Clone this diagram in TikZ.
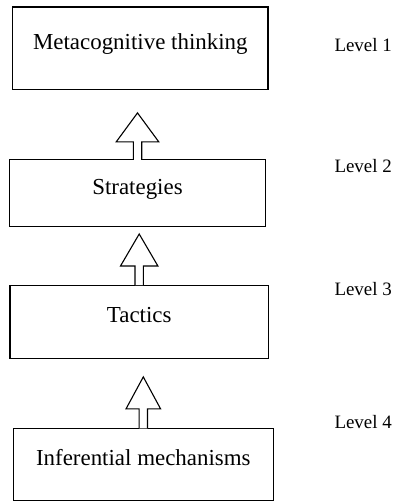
\documentclass[tikz,border=0pt]{standalone}
\usepackage{fontspec}
\setmainfont{Liberation Serif}
\usepackage{tikz}
\usetikzlibrary{calc}

\tikzset{
  levelbox/.style={draw, line width=1.1bp, inner sep=0pt,
    font=\fontsize{23}{27}\selectfont, text height=16bp, text depth=14bp},
  levellabel/.style={anchor=base west, font=\fontsize{19}{23}\selectfont},
  blockarrow/.style={draw, fill=white, line width=1.1bp, line join=miter}
}

% hollow upward arrow: lower box, upper box, gap, head length, head half width
\newcommand{\levelarrow}[5]{%
  \coordinate (#1-tip) at ($(#1.north |- #2.south)+(0,#3)$);
  \path[blockarrow] ($(#1.north)+(-4.2,0.6)$) -- ($(#1-tip)+(-4.2,#4)$)
    -- ($(#1-tip)+(-#5,#4)$) -- (#1-tip) -- ($(#1-tip)+(#5,#4)$)
    -- ($(#1-tip)+(4.2,#4)$) -- ($(#1.north)+(4.2,0.6)$);
}

\begin{document}
\begin{tikzpicture}[x=1bp, y=-1bp]
  \useasboundingbox (0,0) rectangle (405,502);
  \node[levelbox, minimum width=255.3bp, minimum height=82.3bp]
    (meta) at (140.3,48.2) {Metacognitive thinking};
  \node[levelbox, minimum width=256.4bp, minimum height=66.5bp]
    (strat) at (137.5,193.2) {Strategies};
  \node[levelbox, minimum width=258.3bp, minimum height=73.3bp]
    (tact) at (139.2,321.7) {Tactics};
  \node[levelbox, minimum width=260bp, minimum height=71.7bp]
    (infer) at (143.3,464.2) {Inferential mechanisms};
  % Arrows
  \levelarrow{strat}{meta}{23}{29}{21.3}
  \levelarrow{tact}{strat}{7}{32}{18.7}
  \levelarrow{infer}{tact}{18}{32}{17.3}
  % Labels
  \node[levellabel] (lvl1) at (331,52) {Level 1};
  \node[levellabel] (lvl2) at (331,173) {Level 2};
  \node[levellabel] (lvl3) at (331,295) {Level 3};
  \node[levellabel] (lvl4) at (331,428) {Level 4};
\end{tikzpicture}
\end{document}
